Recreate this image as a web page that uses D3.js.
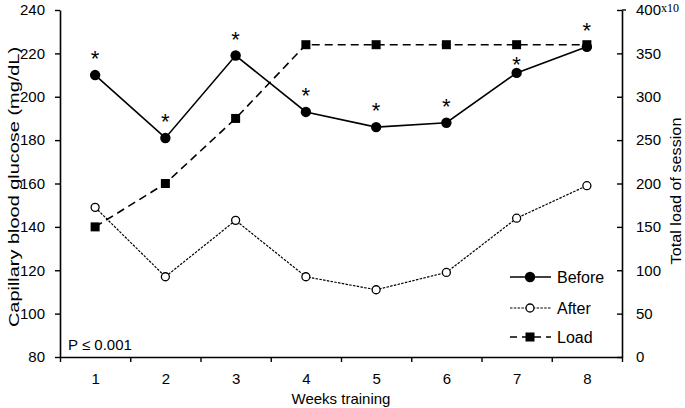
<!DOCTYPE html>
<html>
<head>
<meta charset="utf-8">
<script src="https://cdn.jsdelivr.net/npm/d3@7"></script>
<style>
  html, body { margin: 0; padding: 0; background: #fff; }
  svg text { font-family: "Liberation Sans", Arial, sans-serif; fill: #000; }
</style>
</head>
<body>
<svg id="chart" width="685" height="408"></svg>
<script>
// ---- data ----
const weeks = [1, 2, 3, 4, 5, 6, 7, 8];
const before = [210, 181, 219, 193, 186, 188, 211, 223];
const after = [149, 117, 143, 117, 111, 119, 144, 159];
const load = [150, 200, 275, 360, 360, 360, 360, 360]; // x10
const significant = [true, true, true, true, true, true, true, true];
const glucoseTicks = [80, 100, 120, 140, 160, 180, 200, 220, 240];
const loadTicks = [0, 50, 100, 150, 200, 250, 300, 350, 400];
const legendItems = ["Before", "After", "Load"];

// ---- layout ----
const svg = d3.select("#chart");
const L = 60, R = 622, T = 10, B = 357;

const x = d3.scaleLinear().domain([0.5, 8.5]).range([L, R]);
const yL = d3.scaleLinear().domain([80, 240]).range([B, T]);
const yR = d3.scaleLinear().domain([0, 400]).range([B, T]);

// axes
const gx = svg.append("g").attr("transform", `translate(0,${B})`)
  .call(d3.axisBottom(x).tickValues(d3.range(0.5, 9, 1)).tickSizeInner(5).tickSizeOuter(0).tickFormat(""));
const gxl = svg.append("g").attr("transform", `translate(0,${B})`)
  .call(d3.axisBottom(x).tickValues(weeks).tickSize(0).tickPadding(16).tickFormat(d3.format("d")));
gxl.select(".domain").remove();

const gl = svg.append("g").attr("transform", `translate(${L},0)`)
  .call(d3.axisLeft(yL).tickValues(glucoseTicks).tickSizeInner(5).tickSizeOuter(0).tickPadding(10));
const gr = svg.append("g").attr("transform", `translate(${R},0)`)
  .call(d3.axisRight(yR).tickValues(loadTicks).tickSizeInner(-5).tickSizeOuter(0).tickPadding(14));

[gx, gxl, gl, gr].forEach(g => {
  g.selectAll("path.domain").attr("stroke", "#000").attr("stroke-width", 1.6);
  g.selectAll(".tick line").attr("stroke", "#000").attr("stroke-width", 1.4);
  g.selectAll(".tick text").attr("font-size", 15).attr("font-family", "Liberation Sans, Arial, sans-serif").attr("fill", "#000");
});
// top cap of right axis
gr.append("line").attr("x1", 0).attr("x2", 4).attr("y1", yR(400)).attr("y2", yR(400))
  .attr("stroke", "#000").attr("stroke-width", 1.4);
// "x10" on top right label
gr.selectAll(".tick text").filter(d => d === 400).append("tspan")
  .attr("font-family", "Liberation Serif, Times New Roman, serif").attr("font-size", 12)
  .attr("dy", -3).text("x10");

// axis titles
svg.append("text").attr("transform", `translate(19,187) rotate(-90) scale(1.33,1)`)
  .attr("text-anchor", "middle").attr("font-size", 15).text("Capillary blood glucose (mg/dL)");
svg.append("text").attr("transform", `translate(681,191) rotate(-90) scale(1.08,1)`)
  .attr("text-anchor", "middle").attr("font-size", 15).text("Total load of session");
svg.append("text").attr("x", x(4.5)).attr("y", 404).attr("text-anchor", "middle")
  .attr("font-size", 15).text("Weeks training");
svg.append("text").attr("x", 68).attr("y", 350).attr("font-size", 15).text("P \u2264 0.001");

// lines
const lineL = d3.line().x((d, i) => x(weeks[i])).y(d => yL(d));
const lineR = d3.line().x((d, i) => x(weeks[i])).y(d => yR(d));

svg.append("path").datum(load).attr("d", lineR).attr("fill", "none")
  .attr("stroke", "#000").attr("stroke-width", 1.6).attr("stroke-dasharray", "8,5");
svg.append("path").datum(after).attr("d", lineL).attr("fill", "none")
  .attr("stroke", "#000").attr("stroke-width", 1.2).attr("stroke-dasharray", "2.5,1.3");
svg.append("path").datum(before).attr("d", lineL).attr("fill", "none")
  .attr("stroke", "#000").attr("stroke-width", 1.6);

// markers
svg.selectAll("rect.load").data(load).join("rect").attr("class", "load")
  .attr("x", (d, i) => x(weeks[i]) - 4.5).attr("y", d => yR(d) - 4.5)
  .attr("width", 9).attr("height", 9).attr("fill", "#000");
svg.selectAll("circle.after").data(after).join("circle").attr("class", "after")
  .attr("cx", (d, i) => x(weeks[i])).attr("cy", d => yL(d)).attr("r", 4)
  .attr("fill", "#fff").attr("stroke", "#000").attr("stroke-width", 1.3);
svg.selectAll("circle.before").data(before).join("circle").attr("class", "before")
  .attr("cx", (d, i) => x(weeks[i])).attr("cy", d => yL(d)).attr("r", 5.2).attr("fill", "#000");

// asterisks (centre ~21px above the point; nudged down if it would sit on the load line)
function starCenter(i) {
  const py = yL(before[i]);
  const ly = yR(load[i]);
  let c = py - 21;
  if (Math.abs(c - ly) < 10 && ly < py) c = (py + ly) / 2 + 1;
  return c;
}
svg.selectAll("text.star").data(weeks.filter((w, i) => significant[i])).join("text").attr("class", "star")
  .attr("x", w => x(w)).attr("y", w => starCenter(w - 1) + 12)
  .attr("text-anchor", "middle").attr("font-size", 22).attr("fill", "#111")
  .attr("font-family", "Liberation Serif, Times New Roman, serif").text("*");

// legend
const legY = [277, 308, 337];
const lg = svg.append("g");
legendItems.forEach((name, i) => {
  const y = legY[i];
  const ln = lg.append("line").attr("x1", 510).attr("x2", 551).attr("y1", y).attr("y2", y).attr("stroke", "#000");
  if (i === 0) ln.attr("stroke-width", 1.6);
  if (i === 1) ln.attr("stroke-width", 1.2).attr("stroke-dasharray", "2.5,1.3");
  if (i === 2) ln.attr("stroke-width", 1.6).attr("stroke-dasharray", "7,5");
  if (i === 0) lg.append("circle").attr("cx", 530).attr("cy", y).attr("r", 5.2).attr("fill", "#000");
  if (i === 1) lg.append("circle").attr("cx", 530).attr("cy", y).attr("r", 4).attr("fill", "#fff").attr("stroke", "#000").attr("stroke-width", 1.3);
  if (i === 2) lg.append("rect").attr("x", 525.5).attr("y", y - 4.5).attr("width", 9).attr("height", 9).attr("fill", "#000");
  lg.append("text").attr("x", 557).attr("y", y + 5.5).attr("font-size", 16).text(name);
});
</script>
</body>
</html>
